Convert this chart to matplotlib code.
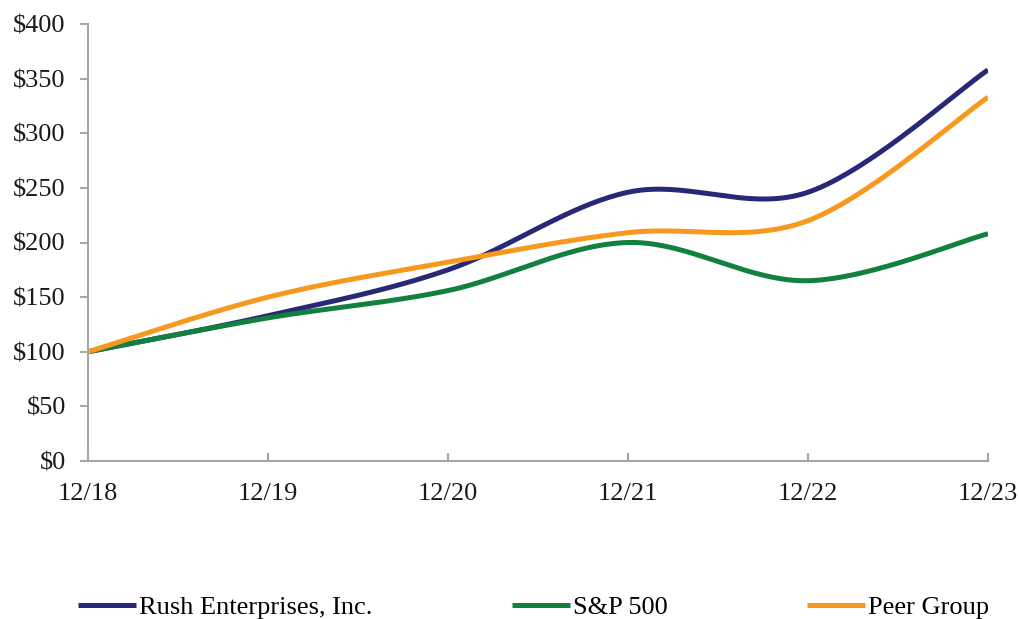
import numpy as np
import matplotlib.pyplot as plt

plt.rcParams['font.family'] = ['Liberation Serif', 'DejaVu Serif']

years = ["12/18", "12/19", "12/20", "12/21", "12/22", "12/23"]
rush = [100, 133, 175, 246, 246, 358]
sp500 = [100, 131, 156, 200, 165, 208]
peer = [100, 150, 182, 209, 220, 333]

series = [("Rush Enterprises, Inc.", rush, "#272977"),
          ("S&P 500", sp500, "#12803E"),
          ("Peer Group", peer, "#F7991F")]


def smooth(y, n=40):
    # catmull-rom through the points, like excel's smoothed line
    y = np.asarray(y, dtype=float)
    x = np.arange(len(y), dtype=float)
    p = np.concatenate([[y[0]], y, [y[-1]]])
    px = np.concatenate([[x[0]], x, [x[-1]]])
    xs, ys = [], []
    t = np.linspace(0, 1, n)
    for i in range(len(y) - 1):
        for arr, out in ((px, xs), (p, ys)):
            p0, p1, p2, p3 = arr[i], arr[i + 1], arr[i + 2], arr[i + 3]
            c1 = p1 + (p2 - p0) / 6
            c2 = p2 - (p3 - p1) / 6
            out.extend((1 - t) ** 3 * p1 + 3 * (1 - t) ** 2 * t * c1
                       + 3 * (1 - t) * t ** 2 * c2 + t ** 3 * p2)
    return xs, ys


fig = plt.figure(figsize=(10.19, 6.19), dpi=100)
ax = fig.add_axes([88 / 1019, 1 - 461 / 619, 900 / 1019, 437 / 619])

for name, vals, col in series:
    xs, ys = smooth(vals)
    ax.plot(xs, ys, color=col, lw=3.6, label=name, solid_capstyle='butt')

ax.set_xlim(0, len(years) - 1)
ax.set_ylim(0, 400)
ax.set_xticks(range(len(years)))
ax.set_xticklabels(years)
ax.set_yticks(range(0, 401, 50))
ax.set_yticklabels(["$%d" % v for v in range(0, 401, 50)])

grey = "#A6A6A6"
for s in ["top", "right"]:
    ax.spines[s].set_visible(False)
for s in ["left", "bottom"]:
    ax.spines[s].set_color(grey)
    ax.spines[s].set_linewidth(1.5)
ax.tick_params(axis='y', direction='out', length=6, width=1.5, color=grey,
               labelsize=19, pad=10, labelcolor='#1a1a1a')
ax.tick_params(axis='x', direction='in', length=6, width=1.5, color=grey,
               labelsize=19, pad=16, labelcolor='#1a1a1a')

fig.legend(loc='center left', bbox_to_anchor=(78 / 1019, 1 - 607 / 619),
           ncol=3, frameon=False, fontsize=19, handlelength=2.2,
           handletextpad=0.1, columnspacing=5.3, borderpad=0, borderaxespad=0)

fig.savefig("out.png", dpi=100)
